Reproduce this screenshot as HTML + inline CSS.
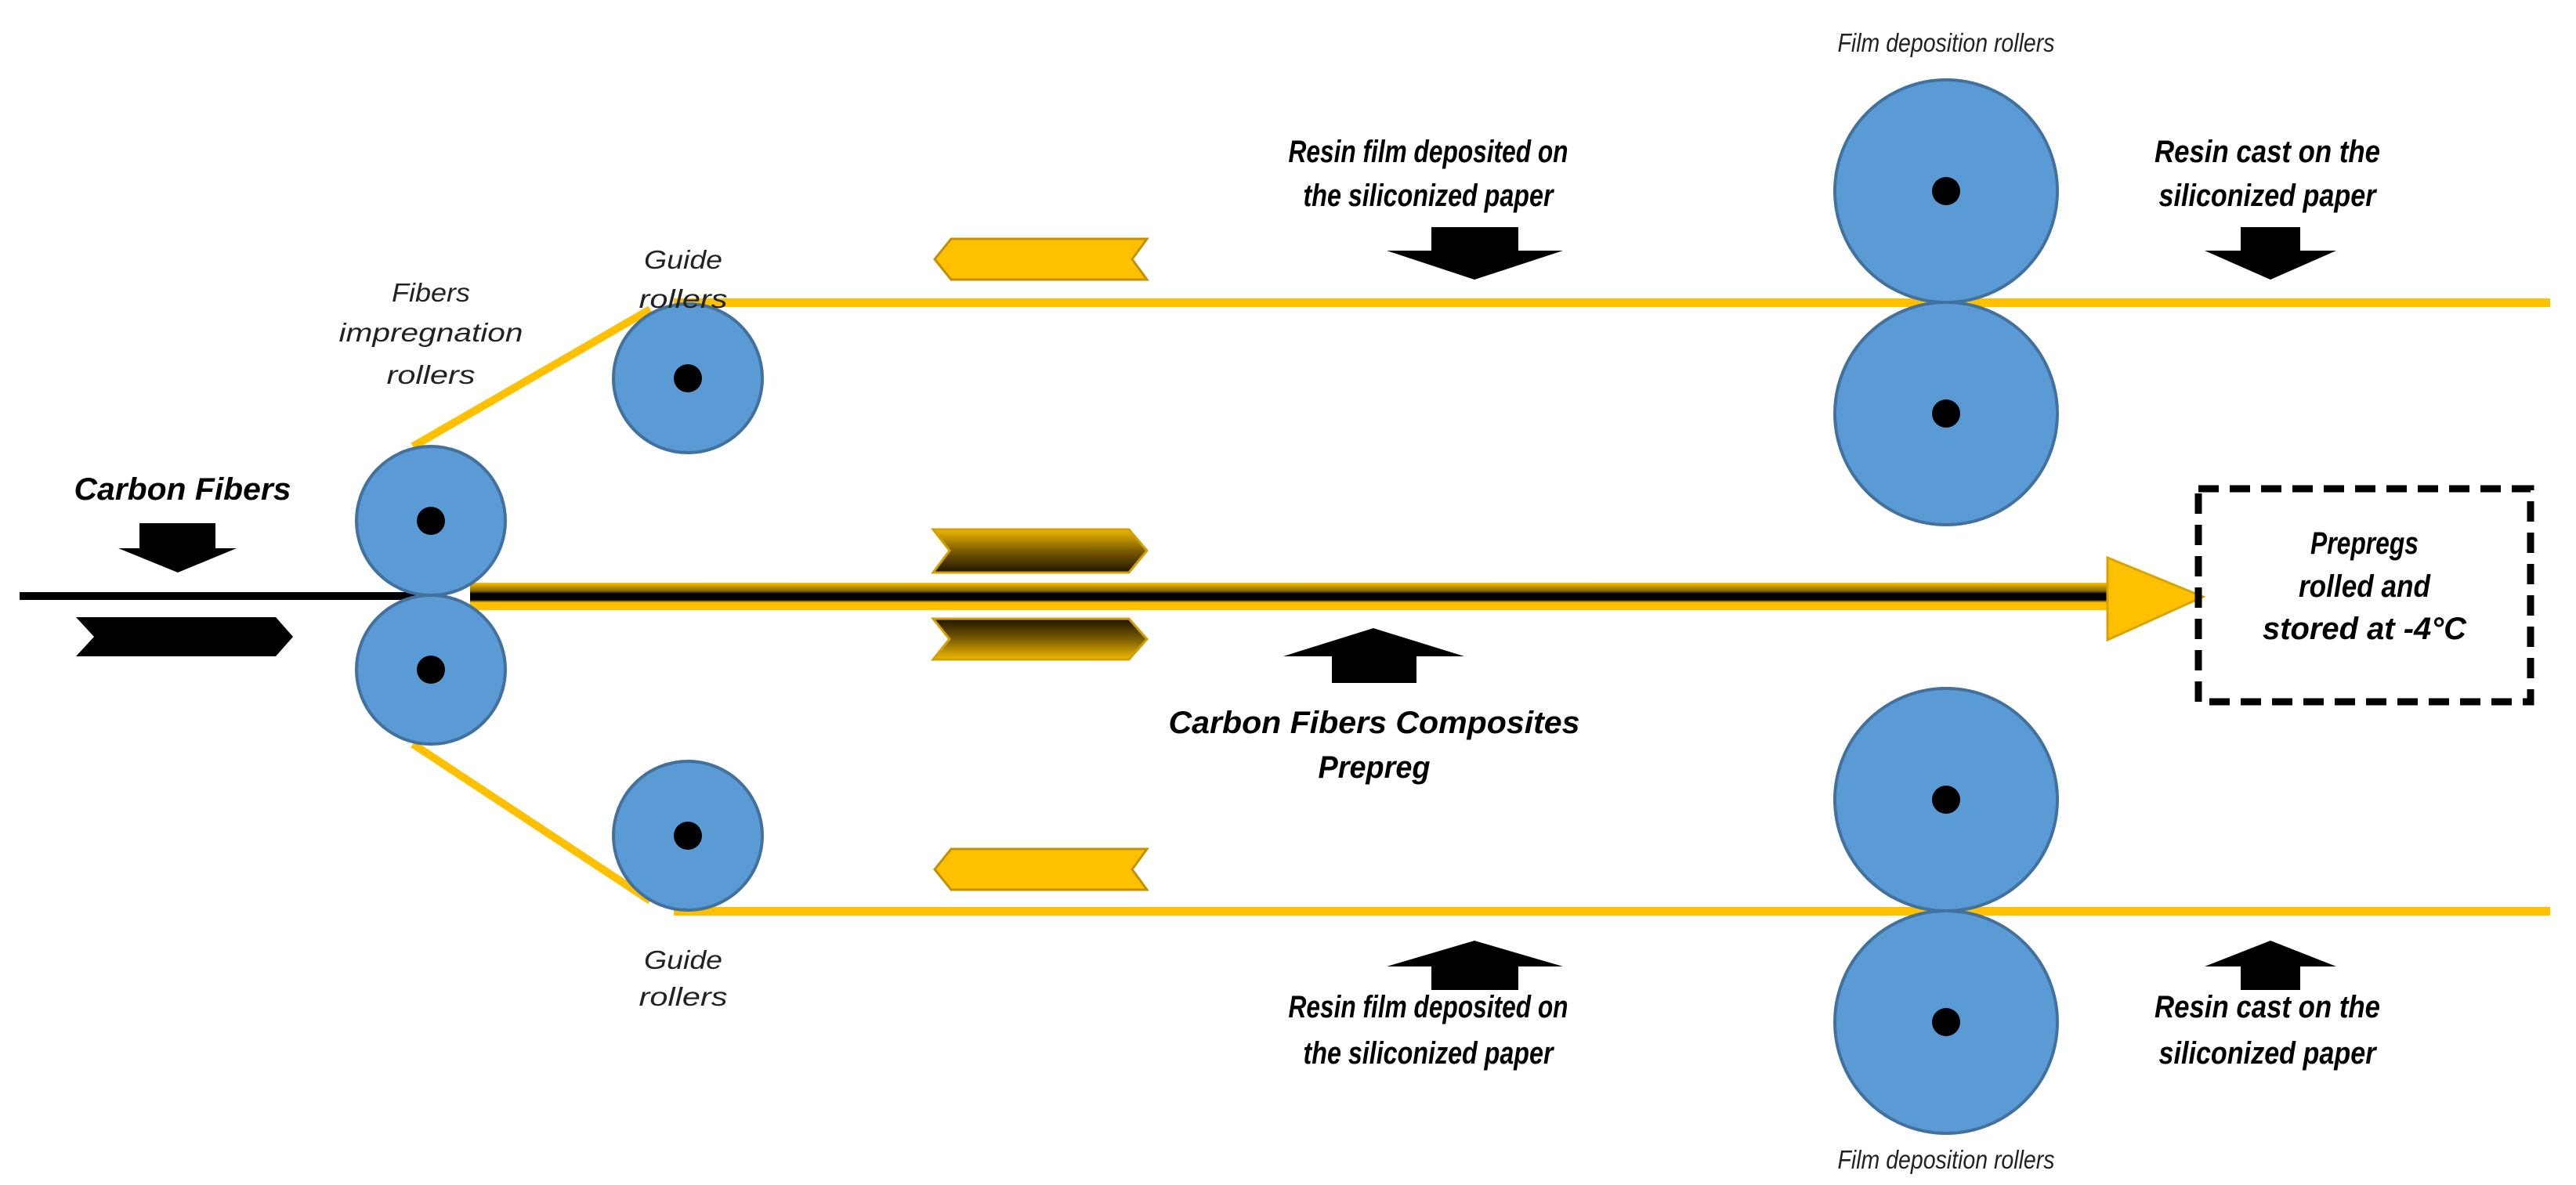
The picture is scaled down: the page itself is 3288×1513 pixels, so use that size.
<!DOCTYPE html>
<html><head><meta charset="utf-8"><style>html,body{margin:0;padding:0;background:#fff}svg{display:block}</style></head>
<body>
<svg width="3288" height="1513" viewBox="0 0 3288 1513" xmlns="http://www.w3.org/2000/svg" font-family="Liberation Sans, sans-serif" font-style="italic">
<defs>
<linearGradient id="gU" x1="0" y1="0" x2="0" y2="1"><stop offset="0" stop-color="#f0b800"/><stop offset="0.5" stop-color="#7a5c00"/><stop offset="1" stop-color="#1e1400"/></linearGradient>
<linearGradient id="gD" x1="0" y1="0" x2="0" y2="1"><stop offset="0" stop-color="#1e1400"/><stop offset="0.5" stop-color="#7a5c00"/><stop offset="1" stop-color="#f0b800"/></linearGradient>
<linearGradient id="band" x1="0" y1="0" x2="0" y2="1"><stop offset="0" stop-color="#ffc000"/><stop offset="0.3" stop-color="#8a6a00"/><stop offset="0.4" stop-color="#000"/><stop offset="0.62" stop-color="#000"/><stop offset="0.72" stop-color="#ffc000"/><stop offset="1" stop-color="#ffc000"/></linearGradient>
</defs>
<!-- input black line -->
<rect x="25" y="756" width="510" height="10" fill="#000"/>
<!-- yellow lines -->
<line x1="527" y1="570" x2="830" y2="395" stroke="#ffc000" stroke-width="10"/>
<line x1="527" y1="950" x2="830" y2="1150" stroke="#ffc000" stroke-width="10"/>
<rect x="860" y="381" width="2395" height="11" fill="#ffc000"/>
<rect x="860" y="1158" width="2395" height="11" fill="#ffc000"/>
<!-- center band -->
<rect x="600" y="744" width="2100" height="35" fill="url(#band)"/>
<polygon points="2690,712 2812,762 2690,817" fill="#ffc000" stroke="#d9a400" stroke-width="3"/>
<!-- rollers -->
<g fill="#5b9bd5" stroke="#41719c" stroke-width="4">
<circle cx="550" cy="665" r="95"/><circle cx="550" cy="855" r="95"/>
<circle cx="878" cy="483" r="95"/><circle cx="878" cy="1067" r="95"/>
<circle cx="2484" cy="244" r="142"/><circle cx="2484" cy="528" r="142"/>
<circle cx="2484" cy="1021" r="142"/><circle cx="2484" cy="1305" r="142"/>
</g>
<g fill="#000">
<circle cx="550" cy="665" r="18"/><circle cx="550" cy="855" r="18"/>
<circle cx="878" cy="483" r="18"/><circle cx="878" cy="1067" r="18"/>
<circle cx="2484" cy="244" r="18"/><circle cx="2484" cy="528" r="18"/>
<circle cx="2484" cy="1021" r="18"/><circle cx="2484" cy="1305" r="18"/>
</g>
<!-- black chevron -->
<polygon points="97,788 352,788 374,813 352,838 97,838 120,813" fill="#000"/>
<!-- down arrows -->
<g fill="#000">
<polygon points="178,668 275,668 275,700 302,700 227,731 151,700 178,700"/>
<polygon points="1827,290 1938,290 1938,320 1995,320 1882,357 1770,320 1827,320"/>
<polygon points="2860,290 2936,290 2936,320 2982,320 2898,357 2814,320 2860,320"/>
<!-- up arrows -->
<polygon points="1827,1264 1938,1264 1938,1234 1995,1234 1882,1201 1770,1234 1827,1234"/>
<polygon points="2860,1264 2936,1264 2936,1234 2982,1234 2898,1201 2814,1234 2860,1234"/>
<polygon points="1700,872 1808,872 1808,838 1869,838 1753,802 1638,838 1700,838"/>
</g>
<!-- yellow left chevrons -->
<polygon points="1214,305 1464,305 1445,331 1464,357 1214,357 1193,331" fill="#ffc000" stroke="#c49000" stroke-width="3"/>
<polygon points="1214,1084 1464,1084 1445,1110 1464,1136 1214,1136 1193,1110" fill="#ffc000" stroke="#c49000" stroke-width="3"/>
<!-- gradient right chevrons -->
<polygon points="1191,676 1441,676 1464,703 1441,731 1191,731 1212,703" fill="url(#gU)" stroke="#d4a000" stroke-width="3"/>
<polygon points="1191,790 1441,790 1464,816 1441,842 1191,842 1212,816" fill="url(#gD)" stroke="#d4a000" stroke-width="3"/>
<!-- dashed box -->
<rect x="2806" y="624" width="424" height="272" fill="none" stroke="#000" stroke-width="9" stroke-dasharray="26,14"/>
<!-- bold labels -->
<g font-weight="bold" font-size="40" fill="#000" lengthAdjust="spacingAndGlyphs" text-anchor="middle">
<text x="233" y="638" textLength="277" lengthAdjust="spacingAndGlyphs">Carbon Fibers</text>
<text x="1823" y="207" textLength="357" lengthAdjust="spacingAndGlyphs">Resin film deposited on</text>
<text x="1823" y="263" textLength="319" lengthAdjust="spacingAndGlyphs">the siliconized paper</text>
<text x="2894" y="207" textLength="288" lengthAdjust="spacingAndGlyphs">Resin cast on the</text>
<text x="2894" y="263" textLength="277" lengthAdjust="spacingAndGlyphs">siliconized paper</text>
<text x="1823" y="1299" textLength="357" lengthAdjust="spacingAndGlyphs">Resin film deposited on</text>
<text x="1823" y="1358" textLength="319" lengthAdjust="spacingAndGlyphs">the siliconized paper</text>
<text x="2894" y="1299" textLength="288" lengthAdjust="spacingAndGlyphs">Resin cast on the</text>
<text x="2894" y="1358" textLength="277" lengthAdjust="spacingAndGlyphs">siliconized paper</text>
<text x="1754" y="936" textLength="525" lengthAdjust="spacingAndGlyphs">Carbon Fibers Composites</text>
<text x="1754" y="993" textLength="143" lengthAdjust="spacingAndGlyphs">Prepreg</text>
<text x="3018" y="707" textLength="138" lengthAdjust="spacingAndGlyphs">Prepregs</text>
<text x="3018" y="762" textLength="168" lengthAdjust="spacingAndGlyphs">rolled and</text>
<text x="3018" y="816" textLength="260" lengthAdjust="spacingAndGlyphs">stored at -4°C</text>
</g>
<!-- italic labels -->
<g font-size="33" fill="#222" text-anchor="middle">
<text x="2484" y="66" textLength="277" lengthAdjust="spacingAndGlyphs">Film deposition rollers</text>
<text x="2484" y="1492" textLength="277" lengthAdjust="spacingAndGlyphs">Film deposition rollers</text>
<text x="550" y="385" textLength="100" lengthAdjust="spacingAndGlyphs">Fibers</text>
<text x="550" y="436" textLength="235" lengthAdjust="spacingAndGlyphs">impregnation</text>
<text x="550" y="490" textLength="113" lengthAdjust="spacingAndGlyphs">rollers</text>
<text x="872" y="343" textLength="100" lengthAdjust="spacingAndGlyphs">Guide</text>
<text x="872" y="393" textLength="113" lengthAdjust="spacingAndGlyphs">rollers</text>
<text x="872" y="1237" textLength="100" lengthAdjust="spacingAndGlyphs">Guide</text>
<text x="872" y="1284" textLength="113" lengthAdjust="spacingAndGlyphs">rollers</text>
</g>
</svg>
</body></html>
